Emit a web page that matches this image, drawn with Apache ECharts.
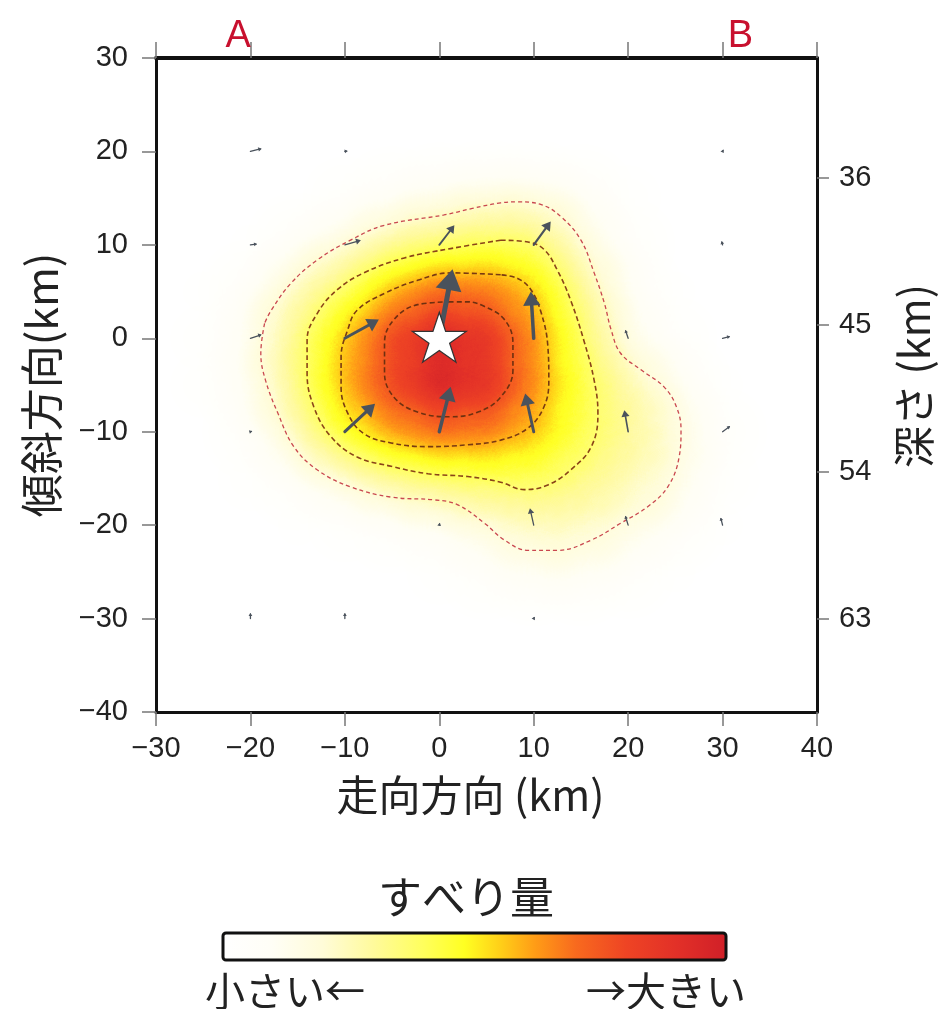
<!DOCTYPE html>
<html><head><meta charset="utf-8">
<script src="https://cdn.jsdelivr.net/npm/echarts@6/dist/echarts.min.js"></script>
<style>html,body{margin:0;padding:0;background:#fff}#c{width:943px;height:1009px}</style>
</head><body><div id="c"></div>
<script>
// ---------------- data ----------------
const strikeTicks = [-30, -20, -10, 0, 10, 20, 30, 40];
const dipTicks = [-40, -30, -20, -10, 0, 10, 20, 30];
const depthTicks = [36, 45, 54, 63];
const depthRange = [28.65, 68.69];           // depth (km) at top / bottom edge of plot
const profileEnds = [['A', -21.3], ['B', 31.9]];
const hypocenter = [0, 0];

// slip (relative) on a 5 km grid
const gridX = [-25, -20, -15, -10, -5, 0, 5, 10, 15, 20, 25, 30];
const gridY = [20, 15, 10, 5, 0, -5, -10, -15, -20, -25, -30];
const slipRows = [
  [0, 0, 0, 0, 0, 0, 0, 0, 0, 0, 0, 0],
  [0, 0, 0.01, 0.05, 0.10, 0.15, 0.19, 0.19, 0.12, 0.03, 0, 0],
  [0, 0.02, 0.10, 0.20, 0.33, 0.38, 0.43, 0.41, 0.21, 0.07, 0.01, 0],
  [0.02, 0.10, 0.27, 0.42, 0.62, 0.75, 0.71, 0.60, 0.34, 0.12, 0.02, 0],
  [0.03, 0.14, 0.36, 0.59, 0.82, 0.98, 0.90, 0.65, 0.41, 0.16, 0.05, 0],
  [0.03, 0.14, 0.36, 0.61, 0.82, 1.00, 0.93, 0.66, 0.45, 0.30, 0.15, 0.02],
  [0.01, 0.08, 0.27, 0.50, 0.64, 0.72, 0.69, 0.60, 0.43, 0.33, 0.21, 0.06],
  [0, 0.03, 0.10, 0.22, 0.33, 0.39, 0.41, 0.42, 0.36, 0.28, 0.19, 0.04],
  [0, 0, 0.02, 0.04, 0.08, 0.13, 0.20, 0.26, 0.25, 0.19, 0.10, 0.02],
  [0, 0, 0, 0, 0.01, 0.03, 0.08, 0.13, 0.13, 0.07, 0.02, 0],
  [0, 0, 0, 0, 0, 0, 0, 0, 0, 0, 0, 0]
];
const colorScaleMax = 1.03;   // slip value at the right end of the colour bar

// slip vectors: [x, y, dx, dy] in km
const slipVectors = [
  [0, 0, 1.4, 7.4], [0, -10, 1.2, 4.8], [-10, 0, 3.6, 2.0], [-10, -10, 3.2, 3.0],
  [10, 0, -0.3, 5.0], [10, -10, -0.9, 4.1], [0, 10, 1.6, 2.1], [10, 10, 1.8, 2.5],
  [10, -20, -0.4, 1.8], [20, -10, -0.4, 2.3], [20, 0, -0.3, 0.9], [20, -20, -0.3, 1.0],
  [30, 10, -0.1, 0.4], [30, 0, 0.8, 0.2], [30, -10, 0.8, 0.6], [30, -20, -0.2, 0.8],
  [-20, 20, 1.2, 0.3], [-10, 20, 0.3, 0.05], [-20, 10, 0.7, 0.1], [-10, 10, 1.7, 0.5],
  [-20, 0, 1.2, 0.4], [-20, -10, 0.2, 0.05], [0, -20, 0.05, 0.25], [-20, -30, 0, 0.6],
  [-10, -30, 0, 0.6], [10, -30, 0.1, 0.2], [30, 20, 0.1, 0.2]
];

// contour lines (km)
const contourLevel1 = [[-18.5,1.6],[-18.9,-1.6],[-18.4,-4.5],[-17.1,-8.0],[-15.4,-11.6],[-12.9,-14.1],[-9.4,-15.9],[-5.1,-17.0],[-0.5,-17.3],[1.9,-17.8],[4.8,-19.8],[6.9,-21.6],[9.4,-22.7],[12.5,-22.7],[16.1,-21.6],[19.2,-19.8],[22.1,-18.0],[24.2,-15.9],[25.4,-12.7],[25.6,-9.8],[25.1,-7.3],[23.8,-5.2],[21.4,-3.4],[19.2,-1.6],[18.2,0.9],[17.5,3.7],[16.4,7.0],[15.0,10.5],[12.9,13.0],[10.8,14.3],[8.3,14.6],[6.5,14.5],[3.5,13.9],[0.5,13.2],[-5.8,12.1],[-9.4,10.5],[-12.9,8.4],[-15.7,5.9],[-17.8,3.0],[-18.5,1.6]];
const contourLevel2 = [[6.5,10.5],[1.2,9.6],[-3.7,8.6],[-8.0,7.0],[-10.8,5.2],[-12.9,2.7],[-14.0,-0.2],[-14.0,-3.7],[-13.3,-7.3],[-11.5,-10.5],[-8.7,-12.7],[-5.1,-13.7],[-1.2,-14.5],[3.0,-14.8],[6.5,-15.4],[9.0,-16.2],[11.5,-15.7],[13.9,-14.1],[16.1,-11.6],[16.8,-8.0],[16.4,-4.5],[15.3,-0.2],[13.9,4.1],[12.5,7.3],[11.1,9.5],[9.4,10.3],[6.5,10.5]];
const contourLevel3 = [[6.5,6.8],[1.2,7.0],[-2.3,6.2],[-5.8,4.8],[-8.7,3.0],[-9.7,0.9],[-10.4,-2.0],[-10.4,-5.2],[-9.7,-8.0],[-8.0,-10.2],[-5.1,-11.2],[-1.2,-11.6],[3.0,-11.4],[6.5,-10.9],[9.4,-9.6],[11.1,-7.3],[11.6,-4.5],[11.5,-0.9],[10.8,2.7],[9.7,5.2],[8.3,6.4],[6.5,6.8]];
const contourLevel4 = [[1.2,3.9],[-2.3,3.6],[-4.8,2.0],[-5.8,-0.5],[-5.8,-3.7],[-4.8,-6.3],[-2.3,-7.9],[1.2,-8.4],[4.1,-7.9],[6.5,-6.3],[7.8,-3.4],[7.8,-0.5],[6.9,2.0],[4.8,3.4],[3.0,3.9],[1.2,3.9]];

// colour scale (position 0..1 -> colour)
const colorbarStops = [[0,'#ffffff'],[0.1,'#fffef6'],[0.2,'#fffcd8'],[0.3,'#fffa9c'],[0.4,'#ffff5c'],[0.48,'#ffff22'],[0.55,'#ffd018'],[0.62,'#ff9c16'],[0.7,'#f86a1e'],[0.8,'#ee4424'],[0.9,'#e23028'],[1,'#d01f28']];

// ---------------- rendering ----------------
const LAT = '"Liberation Sans", Arial, sans-serif';
const CJK = '"Noto Sans CJK JP", "Noto Sans", sans-serif';
const GRID = {left: 156, top: 58, width: 661, height: 654};
const PT_SIZE = 26, BLUR_SIZE = 50;
const CELL_W = GRID.width / (strikeTicks[strikeTicks.length-1] - strikeTicks[0]) * (gridX[1] - gridX[0]);
const CELL_H = GRID.height / (dipTicks[dipTicks.length-1] - dipTicks[0]) * (gridY[0] - gridY[1]);

function hex2rgb(h){return [parseInt(h.slice(1,3),16),parseInt(h.slice(3,5),16),parseInt(h.slice(5,7),16)];}
function colorAt(s){
  for (let i = 1; i < colorbarStops.length; i++) {
    if (s <= colorbarStops[i][0]) {
      const a = colorbarStops[i-1], b = colorbarStops[i];
      const t = (s - a[0]) / (b[0] - a[0]);
      const ca = hex2rgb(a[1]), cb = hex2rgb(b[1]);
      return 'rgb(' + ca.map((v,k)=>Math.round(v + (cb[k]-v)*t)).join(',') + ')';
    }
  }
  return colorbarStops[colorbarStops.length-1][1];
}
// Calibrate the heatmap's alpha accumulation (same brush as the ECharts heatmap layer)
function makeBrush(){
  const r = PT_SIZE + BLUR_SIZE, d = r * 2;
  const c = document.createElement('canvas'); c.width = d; c.height = d;
  const ctx = c.getContext('2d');
  ctx.shadowOffsetX = d; ctx.shadowBlur = BLUR_SIZE; ctx.shadowColor = '#000';
  ctx.beginPath(); ctx.arc(-r, r, PT_SIZE, 0, Math.PI * 2, true); ctx.closePath(); ctx.fill();
  return c;
}
function uniformAlpha(brush, s){
  const W = 420, H = 420, r = PT_SIZE + BLUR_SIZE;
  const c = document.createElement('canvas'); c.width = W; c.height = H;
  const ctx = c.getContext('2d');
  for (let i = -5; i <= 5; i++) for (let j = -5; j <= 5; j++) {
    ctx.globalAlpha = s; ctx.drawImage(brush, W/2 + i*CELL_W - r, H/2 + j*CELL_H - r);
  }
  const img = ctx.getImageData(Math.round(W/2), Math.round(H/2), Math.round(CELL_W), Math.round(CELL_H)).data;
  let sum = 0, n = 0; for (let k = 3; k < img.length; k += 4) { sum += img[k]; n++; }
  return sum / n / 256;
}
const brush = makeBrush();
const calib = [];
for (let k = 0; k <= 50; k++) { const s = k / 50; calib.push([s, k === 0 ? 0 : uniformAlpha(brush, s)]); }
function sFromAlpha(A){
  if (A <= 0) return 0;
  for (let k = 1; k < calib.length; k++) {
    if (A <= calib[k][1]) { const a = calib[k-1], b = calib[k]; return a[0] + (b[0]-a[0]) * (A - a[1]) / Math.max(1e-9, b[1]-a[1]); }
  }
  return 1;
}
const vmColors = [];
for (let j = 0; j <= 120; j++) vmColors.push(colorAt(Math.min(1, sFromAlpha(j / 120) / colorScaleMax)));

echarts.registerMap('faultPlane', {type: 'FeatureCollection', features: [{type: 'Feature', properties: {name: 'plane'},
  geometry: {type: 'Polygon', coordinates: [[[strikeTicks[0], dipTicks[0]], [strikeTicks[strikeTicks.length-1], dipTicks[0]], [strikeTicks[strikeTicks.length-1], dipTicks[dipTicks.length-1]], [strikeTicks[0], dipTicks[dipTicks.length-1]], [strikeTicks[0], dipTicks[0]]]]}}]});

const heatData = [];
gridY.forEach((y, i) => gridX.forEach((x, j) => heatData.push([x, y, slipRows[i][j]])));

const chart = echarts.init(document.getElementById('c'), null, {renderer: 'canvas'});

const tickStyle = {lineStyle: {color: '#777', width: 1.5}};
const numFmt = v => (v < 0 ? '\u2212' + Math.abs(v) : String(v));

function contourSeries(data, color, width, dash) {
  return {type: 'line', xAxisIndex: 0, yAxisIndex: 0, data: data, smooth: 0.4, symbol: 'none', silent: true, z: 3,
    lineStyle: {color: color, width: width, type: dash}};
}

const option = {
  animation: false,
  backgroundColor: '#fff',
  grid: GRID,
  geo: {
    map: 'faultPlane', roam: false, silent: true, aspectScale: GRID.width / GRID.height,
    layoutCenter: [GRID.left + GRID.width / 2, GRID.top + GRID.height / 2], layoutSize: GRID.width,
    itemStyle: {areaColor: 'rgba(255,255,255,0)', borderColor: 'rgba(0,0,0,0)', borderWidth: 0},
    emphasis: {disabled: true}, select: {disabled: true}, label: {show: false}, z: 0
  },
  visualMap: {type: 'continuous', show: false, min: 0, max: 1, seriesIndex: 0, calculable: false, inRange: {color: vmColors}},
  xAxis: [
    {type: 'value', position: 'bottom', min: strikeTicks[0], max: strikeTicks[strikeTicks.length-1], interval: 10, z: 10,
      name: '走向方向 (km)', nameLocation: 'middle', nameGap: 62,
      nameTextStyle: {fontFamily: CJK, fontSize: 42, color: '#222', padding: [0, 32, 0, 0]},
      axisLine: {onZero: false, lineStyle: {color: '#111', width: 3}},
      axisTick: Object.assign({length: 14}, tickStyle),
      axisLabel: {margin: 22, fontFamily: LAT, fontSize: 29, color: '#222', formatter: numFmt},
      splitLine: {show: false}},
    {type: 'value', position: 'top', min: strikeTicks[0], max: strikeTicks[strikeTicks.length-1], interval: 10, z: 10,
      axisLine: {onZero: false, lineStyle: {color: '#111', width: 4}},
      axisTick: Object.assign({length: 16, customValues: strikeTicks}, tickStyle),
      axisLabel: {customValues: profileEnds.map(p => p[1]), margin: 2, fontFamily: LAT, fontSize: 38, color: '#c8102e',
        formatter: v => { const p = profileEnds.find(q => Math.abs(q[1] - v) < 1e-6); return p ? p[0] : ''; }},
      splitLine: {show: false}}
  ],
  yAxis: [
    {type: 'value', position: 'left', min: dipTicks[0], max: dipTicks[dipTicks.length-1], interval: 10, z: 10,
      name: '傾斜方向(km)', nameLocation: 'middle', nameGap: 93,
      nameTextStyle: {fontFamily: CJK, fontSize: 43, color: '#222'},
      axisLine: {onZero: false, lineStyle: {color: '#111', width: 3}},
      axisTick: Object.assign({length: 14}, tickStyle),
      axisLabel: {margin: 28, fontFamily: LAT, fontSize: 29, color: '#222', formatter: numFmt},
      splitLine: {show: false}},
    {type: 'value', position: 'right', inverse: true, min: depthRange[0], max: depthRange[1], z: 10,
      name: '深さ (km)', nameLocation: 'middle', nameGap: 76,
      nameTextStyle: {fontFamily: CJK, fontSize: 42, color: '#222', padding: [0, 0, 0, 18]},
      axisLine: {onZero: false, lineStyle: {color: '#111', width: 3}},
      axisTick: Object.assign({length: 12, customValues: depthTicks}, tickStyle),
      axisLabel: {customValues: depthTicks, margin: 22, fontFamily: LAT, fontSize: 29, color: '#222'},
      splitLine: {show: false}}
  ],
  series: [
    {type: 'heatmap', coordinateSystem: 'geo', geoIndex: 0, data: heatData, pointSize: PT_SIZE, blurSize: BLUR_SIZE,
      minOpacity: 1, maxOpacity: 1, silent: true, z: 1},
    contourSeries(contourLevel1, '#c9474f', 1.3, [4, 3]),
    contourSeries(contourLevel2, '#8a4418', 1.6, [5, 3]),
    contourSeries(contourLevel3, '#7a3a12', 1.6, [5, 3]),
    contourSeries(contourLevel4, '#6e3010', 1.6, [5, 3]),
    {type: 'custom', xAxisIndex: 0, yAxisIndex: 0, data: slipVectors, silent: true, z: 4,
      encode: {x: 0, y: 1},
      renderItem: function (params, api) {
        const x = api.value(0), y = api.value(1), dx = api.value(2), dy = api.value(3);
        const p0 = api.coord([x, y]), p1 = api.coord([x + dx, y + dy]);
        const vx = p1[0] - p0[0], vy = p1[1] - p0[1];
        const len = Math.hypot(vx, vy) || 1;
        const ux = vx / len, uy = vy / len;
        const hl = Math.max(3, Math.min(22, len * 0.3));
        const hw = hl * 0.62;
        const lw = Math.max(1.3, Math.min(5, len * 0.075));
        const bx = p1[0] - ux * hl, by = p1[1] - uy * hl;
        const col = '#4a525c';
        return {type: 'group', children: [
          {type: 'line', shape: {x1: p0[0], y1: p0[1], x2: bx + ux * 2, y2: by + uy * 2}, style: {stroke: col, lineWidth: lw, lineCap: 'round'}},
          {type: 'polygon', shape: {points: [[p1[0], p1[1]], [bx - uy * hw, by + ux * hw], [bx + uy * hw, by - ux * hw]]}, style: {fill: col}}
        ]};
      }},
    {type: 'scatter', xAxisIndex: 0, yAxisIndex: 0, data: [hypocenter], silent: true, z: 6,
      symbol: 'path://M50,0 L61.2,34.5 L97.6,34.5 L68.2,55.9 L79.4,90.5 L50,69.1 L20.6,90.5 L31.8,55.9 L2.4,34.5 L38.8,34.5 Z',
      symbolSize: [54, 50], symbolOffset: [0, -1], itemStyle: {color: '#ffffff', opacity: 1, borderColor: '#333', borderWidth: 1.2}}
  ],
  graphic: [
    {type: 'text', x: 466, y: 897, style: {text: 'すべり量', font: '44px ' + CJK, fill: '#222', align: 'center', verticalAlign: 'middle'}},
    {type: 'rect', shape: {x: 223, y: 933, width: 503, height: 27, r: 3},
      style: {fill: new echarts.graphic.LinearGradient(0, 0, 1, 0, colorbarStops.map(s => ({offset: s[0], color: s[1]}))), stroke: '#111', lineWidth: 3}},
    {type: 'text', x: 205, y: 991, style: {text: '小さい←', font: '40px ' + CJK, fill: '#222', align: 'left', verticalAlign: 'middle'}},
    {type: 'text', x: 746, y: 991, style: {text: '→大きい', font: '40px ' + CJK, fill: '#222', align: 'right', verticalAlign: 'middle'}}
  ]
};
chart.setOption(option);
</script></body></html>
